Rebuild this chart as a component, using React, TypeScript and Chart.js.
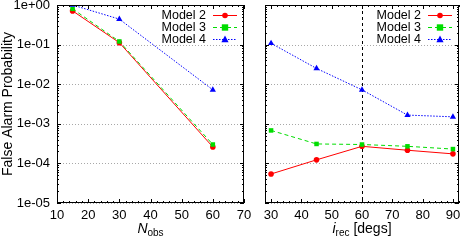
import React, { useEffect, useRef } from "react";
import { Chart, registerables } from "chart.js";

Chart.register(...registerables);

// ---- data ----
const seriesNames = ["Model 2", "Model 3", "Model 4"];

const nObs = [15, 30, 60];
const leftModel2 = [0.71, 0.112, 2.6e-4];
const leftModel3 = [0.8, 0.12, 3.0e-4];
const leftModel4 = [1.0, 0.44, 7.2e-3];

const iRec = [30, 45, 60, 75, 90];
const rightModel2 = [5.4e-5, 1.23e-4, 2.7e-4, 2.15e-4, 1.74e-4];
const rightModel3 = [6.8e-4, 3.1e-4, 3.0e-4, 2.7e-4, 2.3e-4];
const rightModel4 = [0.108, 0.025, 7.2e-3, 1.66e-3, 1.5e-3];

const yTickValues = [1, 1e-1, 1e-2, 1e-3, 1e-4, 1e-5];
const yTickLabels = ["1e+00", "1e-01", "1e-02", "1e-03", "1e-04", "1e-05"];
const leftXTicks = [10, 20, 30, 40, 50, 60, 70];
const rightXTicks = [30, 40, 50, 60, 70, 80, 90];
const rightMarkerLine = 60;

const yTitle = "False Alarm Probability";

// ---- styles ----
const FONT = "'Liberation Sans', Arial, Helvetica, sans-serif";
const seriesStyles = [
  { color: "#ff0000", dash: [] as number[], point: "circle", r: 2.8 },
  { color: "#00dd00", dash: [4, 3], point: "rect", r: 3.2 },
  { color: "#0000ff", dash: [1.5, 1.5], point: "triangle", r: 3.6 },
];

function drawMarker(ctx: CanvasRenderingContext2D, kind: string, x: number, y: number, r: number, color: string) {
  ctx.save();
  ctx.fillStyle = color;
  ctx.beginPath();
  if (kind === "circle") {
    ctx.arc(x, y, r, 0, Math.PI * 2);
  } else if (kind === "rect") {
    ctx.rect(x - r, y - r, 2 * r, 2 * r);
  } else {
    ctx.moveTo(x, y - r * 1.1);
    ctx.lineTo(x + r, y + r * 0.75);
    ctx.lineTo(x - r, y + r * 0.75);
    ctx.closePath();
  }
  ctx.fill();
  ctx.restore();
}

const gnuplotPlugin = {
  id: "gp",
  beforeDatasetsDraw(chart: any, _args: any, opts: any) {
    const { ctx, chartArea: a, scales } = chart;
    const y = scales.y;
    const x = scales.x;
    ctx.save();
    ctx.strokeStyle = "#a8a8a8";
    ctx.lineWidth = 1;
    ctx.setLineDash([1, 2]);
    for (const v of yTickValues) {
      const py = Math.round(y.getPixelForValue(v)) + 0.5;
      ctx.beginPath();
      ctx.moveTo(a.left, py);
      ctx.lineTo(a.right, py);
      ctx.stroke();
    }
    if (opts.vline != null) {
      ctx.strokeStyle = "#000";
      ctx.setLineDash([3, 3]);
      const px = Math.round(x.getPixelForValue(opts.vline)) + 0.5;
      ctx.beginPath();
      ctx.moveTo(px, a.top);
      ctx.lineTo(px, a.bottom);
      ctx.stroke();
    }
    ctx.restore();
  },
  afterDatasetsDraw(chart: any, _args: any, opts: any) {
    const { ctx, chartArea: a, scales } = chart;
    const y = scales.y;
    const x = scales.x;
    ctx.save();
    ctx.setLineDash([]);
    ctx.strokeStyle = "#000";
    ctx.lineWidth = 1;
    // frame
    ctx.strokeRect(Math.round(a.left) + 0.5, Math.round(a.top) + 0.5, Math.round(a.right - a.left) - 1, Math.round(a.bottom - a.top) - 1);
    // y ticks
    ctx.beginPath();
    for (let d = 0; d < yTickValues.length; d++) {
      const base = yTickValues[d];
      const py = Math.round(y.getPixelForValue(base)) + 0.5;
      ctx.moveTo(a.left, py); ctx.lineTo(a.left + 4, py);
      ctx.moveTo(a.right, py); ctx.lineTo(a.right - 4, py);
      if (d < yTickValues.length - 1) {
        const lower = yTickValues[d + 1];
        for (let m = 2; m <= 9; m++) {
          const pm = Math.round(y.getPixelForValue(lower * m)) + 0.5;
          ctx.moveTo(a.left, pm); ctx.lineTo(a.left + 2, pm);
          ctx.moveTo(a.right, pm); ctx.lineTo(a.right - 2, pm);
        }
      }
    }
    // x ticks
    const xt: number[] = opts.xticks;
    for (const v of xt) {
      const px = Math.round(x.getPixelForValue(v)) + 0.5;
      ctx.moveTo(px, a.bottom); ctx.lineTo(px, a.bottom - 4);
      ctx.moveTo(px, a.top); ctx.lineTo(px, a.top + 4);
    }
    for (let v = x.min; v <= x.max; v += 2) {
      if (xt.includes(v)) continue;
      const px = Math.round(x.getPixelForValue(v)) + 0.5;
      ctx.moveTo(px, a.bottom); ctx.lineTo(px, a.bottom - 2);
      ctx.moveTo(px, a.top); ctx.lineTo(px, a.top + 2);
    }
    ctx.stroke();

    // legend
    ctx.font = `12.5px ${FONT}`;
    ctx.textAlign = "right";
    ctx.textBaseline = "middle";
    for (let i = 0; i < seriesNames.length; i++) {
      const st = seriesStyles[i];
      const ry = a.top + 10 + i * 12;
      const sr = a.right - 7;
      const sl = sr - 24;
      ctx.fillStyle = "#000";
      ctx.fillText(seriesNames[i], sl - 7, ry + 0.5);
      ctx.strokeStyle = st.color;
      ctx.setLineDash(st.dash);
      ctx.lineWidth = 1;
      ctx.beginPath();
      ctx.moveTo(sl, Math.round(ry) + 0.5);
      ctx.lineTo(sr, Math.round(ry) + 0.5);
      ctx.stroke();
      ctx.setLineDash([]);
      drawMarker(ctx, st.point, (sl + sr) / 2, Math.round(ry) + 0.5, st.r, st.color);
    }

    // axis titles
    ctx.fillStyle = "#000";
    ctx.textBaseline = "alphabetic";
    ctx.textAlign = "left";
    const cx = (a.left + a.right) / 2;
    const parts: { t: string; font: string; dy: number }[] = opts.xtitle;
    let total = 0;
    const widths = parts.map((p) => {
      ctx.font = p.font;
      const w = ctx.measureText(p.t).width;
      total += w;
      return w;
    });
    let px = cx - total / 2;
    parts.forEach((p, i) => {
      ctx.font = p.font;
      ctx.fillText(p.t, px, 233 + p.dy);
      px += widths[i];
    });

    if (opts.ytitle) {
      ctx.save();
      ctx.translate(11.5, (a.top + a.bottom) / 2);
      ctx.rotate(-Math.PI / 2);
      ctx.textAlign = "center";
      ctx.font = `14px ${FONT}`;
      ctx.fillText(opts.ytitle, 0, 0);
      ctx.restore();
    }
    ctx.restore();
  },
};

function zeroPad(s: any) {
  s.paddingTop = 0;
  s.paddingBottom = 0;
  s.paddingLeft = 0;
  s.paddingRight = 0;
}

function makeConfig(
  xs: number[],
  series: number[][],
  xmin: number,
  xmax: number,
  xticks: number[],
  yAxisWidth: number,
  padRight: number,
  showYLabels: boolean,
  gpOpts: any
): any {
  return {
    type: "line",
    data: {
      datasets: series.map((vals, i) => ({
        label: seriesNames[i],
        data: xs.map((xv, j) => ({ x: xv, y: vals[j] })),
        borderColor: seriesStyles[i].color,
        backgroundColor: seriesStyles[i].color,
        borderWidth: 1,
        borderDash: seriesStyles[i].dash,
        pointStyle: seriesStyles[i].point,
        pointRadius: seriesStyles[i].r,
        pointBorderWidth: 0,
        pointBackgroundColor: seriesStyles[i].color,
        tension: 0,
        fill: false,
        order: 3 - i,
      })),
    },
    options: {
      responsive: false,
      animation: false,
      devicePixelRatio: 1,
      layout: { autoPadding: false, padding: { top: 5, right: padRight, left: 0, bottom: 0 } },
      plugins: {
        legend: { display: false },
        tooltip: { enabled: false },
        title: { display: false },
        gp: gpOpts,
      },
      scales: {
        x: {
          type: "linear",
          min: xmin,
          max: xmax,
          grid: { display: false, drawTicks: false },
          border: { display: false },
          afterBuildTicks: (s: any) => {
            s.ticks = xticks.map((v) => ({ value: v }));
          },
          afterFit: (s: any) => {
            s.height = 39;
            zeroPad(s);
          },
          ticks: {
            padding: 5,
            maxRotation: 0,
            autoSkip: false,
            color: "#000",
            font: { family: FONT, size: 13 },
            callback: (v: any) => String(v),
          },
        },
        y: {
          type: "logarithmic",
          min: 1e-5,
          max: 1,
          grid: { display: false, drawTicks: false },
          border: { display: false },
          afterBuildTicks: (s: any) => {
            s.ticks = yTickValues.map((v) => ({ value: v }));
          },
          afterFit: (s: any) => {
            s.width = yAxisWidth;
            zeroPad(s);
          },
          ticks: {
            display: showYLabels,
            padding: 7,
            autoSkip: false,
            color: "#000",
            font: { family: FONT, size: 13 },
            callback: (v: any) => {
              const idx = yTickValues.findIndex((t) => Math.abs(Math.log10(t) - Math.log10(v)) < 1e-6);
              return idx >= 0 ? yTickLabels[idx] : "";
            },
          },
        },
      },
    },
    plugins: [gnuplotPlugin],
  };
}

export default function App() {
  const leftRef = useRef<HTMLCanvasElement>(null);
  const rightRef = useRef<HTMLCanvasElement>(null);

  useEffect(() => {
    const left = new Chart(
      leftRef.current as HTMLCanvasElement,
      makeConfig(nObs, [leftModel2, leftModel3, leftModel4], 10, 70, leftXTicks, 57, 12, true, {
        xticks: leftXTicks,
        ytitle: yTitle,
        xtitle: [
          { t: "N", font: `italic 14px ${FONT}`, dy: 0 },
          { t: "obs", font: `10px ${FONT}`, dy: 3 },
        ],
      })
    );
    const right = new Chart(
      rightRef.current as HTMLCanvasElement,
      makeConfig(iRec, [rightModel2, rightModel3, rightModel4], 28, 92, rightXTicks, 9, 2, false, {
        xticks: rightXTicks,
        vline: rightMarkerLine,
        xtitle: [
          { t: "i", font: `italic 14px ${FONT}`, dy: 0 },
          { t: "rec", font: `10px ${FONT}`, dy: 3 },
          { t: " [degs]", font: `14px ${FONT}`, dy: 0 },
        ],
      })
    );
    return () => {
      left.destroy();
      right.destroy();
    };
  }, []);

  return (
    <div style={{ position: "fixed", left: 0, top: 0, width: 461, height: 242, background: "#fff" }}>
      <canvas ref={leftRef} width={256} height={242} style={{ position: "absolute", left: 0, top: 0, width: 256, height: 242 }} />
      <canvas ref={rightRef} width={205} height={242} style={{ position: "absolute", left: 256, top: 0, width: 205, height: 242 }} />
    </div>
  );
}
